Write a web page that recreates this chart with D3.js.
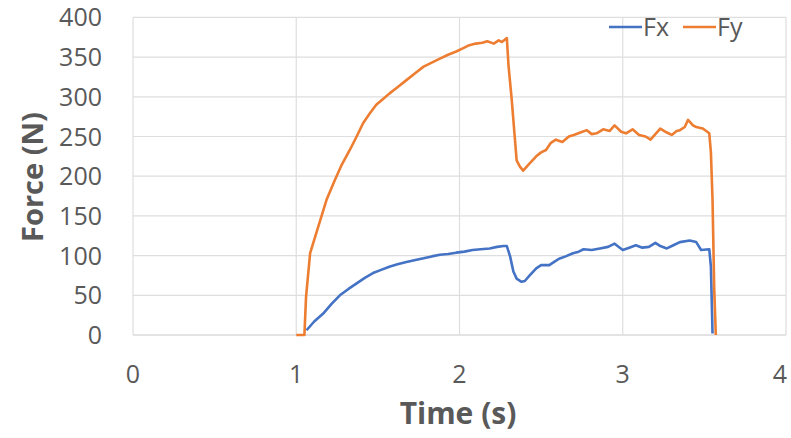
<!DOCTYPE html>
<html>
<head>
<meta charset="utf-8">
<script src="https://cdn.jsdelivr.net/npm/d3@7"></script>
<style>
  body { margin: 0; background: #fff; }
  text { font-family: "Open Sans", sans-serif; }
</style>
</head>
<body>
<script>
// values
const xTicks = [0, 1, 2, 3, 4];
const yTicks = [0, 50, 100, 150, 200, 250, 300, 350, 400];
const seriesNames = ['Fx', 'Fy'];

const fxTime = [1.063, 1.11, 1.165, 1.215, 1.267, 1.32, 1.37, 1.42, 1.47, 1.52, 1.57, 1.62, 1.675, 1.73, 1.78, 1.83, 1.88, 1.93, 1.98, 2.03, 2.08, 2.13, 2.185, 2.23, 2.27, 2.29, 2.31, 2.33, 2.35, 2.38, 2.40, 2.43, 2.47, 2.50, 2.55, 2.58, 2.61, 2.65, 2.695, 2.73, 2.76, 2.81, 2.86, 2.91, 2.95, 3.00, 3.04, 3.08, 3.12, 3.16, 3.20, 3.23, 3.27, 3.31, 3.35, 3.41, 3.45, 3.48, 3.53, 3.54, 3.55];
const fxForce = [6, 17, 27, 39, 50, 58, 65, 72, 78, 82, 86, 89, 92, 94.5, 96.6, 99, 101, 102, 103.7, 105, 107, 108, 109, 111, 112, 112, 99, 80, 71, 67, 68, 75, 84, 88, 88, 92, 96, 99, 103, 105, 108, 107, 109, 111, 115, 107, 110, 113, 110, 111, 116, 112, 109, 113, 117, 119, 117, 107, 108, 86, 2];

const fyTime = [1.00, 1.05, 1.06, 1.085, 1.125, 1.185, 1.236, 1.28, 1.328, 1.37, 1.41, 1.45, 1.49, 1.53, 1.57, 1.62, 1.675, 1.73, 1.78, 1.83, 1.88, 1.93, 1.98, 2.02, 2.06, 2.10, 2.14, 2.17, 2.21, 2.24, 2.26, 2.29, 2.30, 2.32, 2.35, 2.37, 2.39, 2.42, 2.47, 2.50, 2.53, 2.56, 2.59, 2.63, 2.67, 2.70, 2.74, 2.78, 2.81, 2.84, 2.88, 2.92, 2.95, 2.99, 3.02, 3.06, 3.10, 3.14, 3.17, 3.20, 3.23, 3.27, 3.30, 3.33, 3.35, 3.38, 3.40, 3.43, 3.45, 3.49, 3.53, 3.54, 3.55, 3.56, 3.57];
const fyForce = [0, 0, 48, 103, 130, 170, 195, 215, 233, 250, 267, 279, 290, 297, 304, 312, 321, 330, 338, 343, 348, 353, 357, 361, 365, 367, 368, 370, 367, 371, 369, 374, 340, 296, 220, 212, 207, 214, 225, 230, 233, 242, 246, 243, 250, 252, 255, 258, 253, 254, 259, 257, 264, 256, 254, 259, 252, 250, 246, 253, 260, 255, 252, 257, 258, 262, 271, 264, 262, 260, 254, 230, 170, 60, 0];

const colors = ['#4472C4', '#ED7D31'];

const w = 791;
const h = 438;
const svg = d3.select('body').append('svg').attr('width', w).attr('height', h);

const x = d3.scaleLinear().domain([0, 4]).range([133, 786]);
const y = d3.scaleLinear().domain([0, 400]).range([335, 17.4]);

// gridlines
svg.append('g')
  .selectAll('line')
  .data(yTicks)
  .enter()
  .append('line')
  .attr('x1', x(0)).attr('x2', x(4))
  .attr('y1', d => y(d)).attr('y2', d => y(d))
  .attr('stroke', d => d === 0 ? '#c8c8c8' : '#dedede')
  .attr('stroke-width', 1.2);
svg.append('g')
  .selectAll('line')
  .data(xTicks)
  .enter()
  .append('line')
  .attr('x1', d => x(d)).attr('x2', d => x(d))
  .attr('y1', y(0)).attr('y2', y(400))
  .attr('stroke', '#dedede')
  .attr('stroke-width', 1.2);

// tick labels
svg.append('g')
  .selectAll('text')
  .data(yTicks)
  .enter()
  .append('text')
  .attr('x', 102)
  .attr('y', d => y(d))
  .attr('dy', '0.36em')
  .attr('text-anchor', 'end')
  .attr('fill', '#595959')
  .style('font-size', '25px')
  .text(d => d);
svg.append('g')
  .selectAll('text')
  .data(xTicks)
  .enter()
  .append('text')
  .attr('x', d => Math.min(x(d), 780))
  .attr('y', 374)
  .attr('dy', '0.36em')
  .attr('text-anchor', 'middle')
  .attr('fill', '#595959')
  .style('font-size', '25px')
  .text(d => d);

// axis titles
svg.append('text')
  .attr('x', 458)
  .attr('y', 424)
  .attr('text-anchor', 'middle')
  .attr('fill', '#595959')
  .style('font-size', '30px')
  .style('font-weight', 'bold')
  .text('Time (s)');
svg.append('text')
  .attr('transform', 'translate(43,177) rotate(-90)')
  .attr('text-anchor', 'middle')
  .attr('fill', '#595959')
  .style('font-size', '29px')
  .style('font-weight', 'bold')
  .text('Force (N)');

// lines
const line = d3.line().x(d => x(d[0])).y(d => y(d[1]));
const series = [d3.zip(fxTime, fxForce), d3.zip(fyTime, fyForce)];
svg.append('g')
  .selectAll('path')
  .data(series)
  .enter()
  .append('path')
  .attr('d', line)
  .attr('fill', 'none')
  .attr('stroke', (d, i) => colors[i])
  .attr('stroke-width', 2.6)
  .attr('stroke-linejoin', 'round');

// legend
const legendX = [609, 683];
const lg = svg.append('g')
  .selectAll('g')
  .data(seriesNames)
  .enter()
  .append('g');
lg.append('line')
  .attr('x1', (d, i) => legendX[i]).attr('x2', (d, i) => legendX[i] + 33)
  .attr('y1', 27).attr('y2', 27)
  .attr('stroke', (d, i) => colors[i])
  .attr('stroke-width', 2.6);
lg.append('text')
  .attr('x', (d, i) => legendX[i] + 34)
  .attr('y', 27)
  .attr('dy', '0.36em')
  .attr('fill', '#595959')
  .style('font-size', '25px')
  .text(d => d);
</script>
</body>
</html>
